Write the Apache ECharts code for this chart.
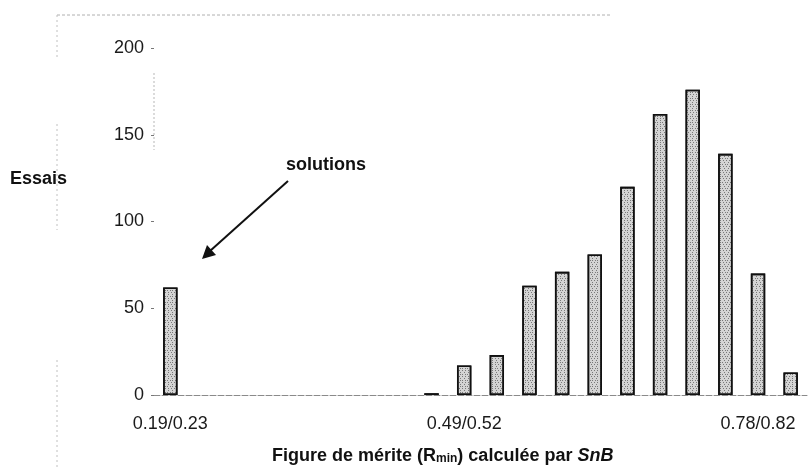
<!DOCTYPE html>
<html>
<head>
<meta charset="utf-8">
<script src="https://cdn.jsdelivr.net/npm/echarts@6/dist/echarts.min.js"></script>
<style>html,body{margin:0;padding:0;background:#fff}#c{width:810px;height:469px}</style>
</head>
<body>
<div id="c"></div>
<script>
var categories = ['0.19/0.23','0.22/0.26','0.26/0.29','0.29/0.32','0.32/0.36','0.36/0.39','0.39/0.42','0.42/0.46','0.46/0.49','0.49/0.52','0.52/0.55','0.55/0.59','0.59/0.62','0.62/0.65','0.65/0.69','0.68/0.72','0.72/0.75','0.75/0.78','0.78/0.82','0.82/0.85'];
var essais = [62,0,0,0,0,0,0,0,1,17,23,63,71,81,120,162,176,139,70,13];
var yTicks = {min:0, max:200, interval:50};

var font = '"Liberation Sans", Arial, Helvetica, sans-serif';
var barData = essais.map(function(v){ return v === 0 ? {value:0, itemStyle:{borderWidth:0, opacity:0}} : v; });
var chart = echarts.init(document.getElementById('c'), null, {renderer:'canvas'});
chart.setOption({
  animation:false,
  backgroundColor:'#fff',
  grid:{left:154, right:3, top:48, bottom:74, containLabel:false},
  xAxis:{
    type:'category', data:categories, boundaryGap:true,
    axisLine:{show:true, lineStyle:{color:'#8a8a8a', width:1, type:[6,2]}},
    axisTick:{show:false},
    axisLabel:{interval:8, margin:20, fontSize:18, color:'#1a1a1a', fontFamily:font},
    splitLine:{show:false}
  },
  yAxis:{
    type:'value', min:yTicks.min, max:yTicks.max, interval:yTicks.interval,
    axisLine:{show:false},
    axisTick:{show:true, length:3, lineStyle:{color:'#777'}},
    axisLabel:{margin:10, fontSize:18, color:'#1a1a1a', fontFamily:font},
    splitLine:{show:false}
  },
  series:[{
    type:'bar', data:barData, barWidth:'44%',
    itemStyle:{
      color:'#d4d4d4', borderColor:'#111', borderWidth:1.6,
      decal:{symbol:'rect', symbolSize:1, dashArrayX:[[1,2],[1,3],[1,1,1,2]], dashArrayY:[1,1], rotation:0, color:'rgba(60,60,60,0.6)'}
    }
  }],
  graphic:[
    {type:'line', shape:{x1:57,y1:15,x2:612,y2:15}, style:{stroke:'#b0b0b0', lineWidth:1, lineDash:[3,2]}, silent:true},
    {type:'line', shape:{x1:57,y1:15,x2:57,y2:60}, style:{stroke:'#c0c0c0', lineWidth:1, lineDash:[2,3]}, silent:true},
    {type:'line', shape:{x1:57,y1:124,x2:57,y2:230}, style:{stroke:'#c0c0c0', lineWidth:1, lineDash:[2,3]}, silent:true},
    {type:'line', shape:{x1:57,y1:360,x2:57,y2:469}, style:{stroke:'#c0c0c0', lineWidth:1, lineDash:[2,3]}, silent:true},
    {type:'line', shape:{x1:154,y1:73,x2:154,y2:150}, style:{stroke:'#b8b8b8', lineWidth:1, lineDash:[2,2]}, silent:true},
    {type:'text', left:10, top:170, style:{text:'Essais', font:'bold 18px '+font, fill:'#111'}},
    {type:'text', left:286, top:156, style:{text:'solutions', font:'bold 18px '+font, fill:'#111'}},
    {type:'line', shape:{x1:288,y1:181,x2:210,y2:251}, style:{stroke:'#111', lineWidth:2}},
    {type:'polygon', shape:{points:[[202,259],[207,245],[216,255]]}, style:{fill:'#111'}},
    {type:'text', left:272, top:447, style:{
      text:'{a|Figure de mérite (R}{s|min}{a|) calculée par }{i|SnB}',
      rich:{
        a:{font:'bold 18px '+font, fill:'#111', lineHeight:22, verticalAlign:'bottom'},
        s:{font:'bold 12px '+font, fill:'#111', lineHeight:22, verticalAlign:'bottom'},
        i:{font:'italic bold 18px '+font, fill:'#111', lineHeight:22, verticalAlign:'bottom'}
      }
    }}
  ]
});
</script>
</body>
</html>
